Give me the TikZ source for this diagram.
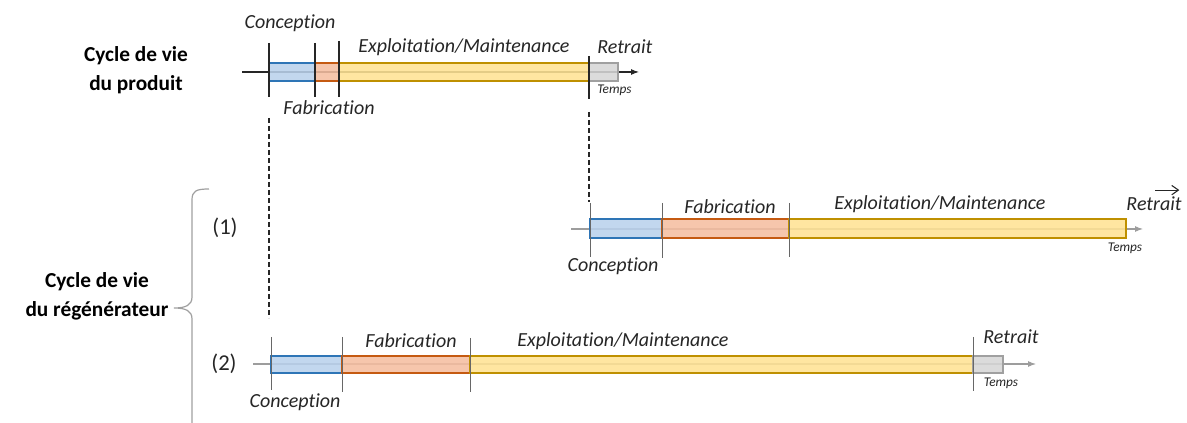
\documentclass[tikz,border=0pt]{standalone}
\usepackage{fontspec}
\setmainfont{Carlito}[Ligatures=NoCommon]
\usepackage{xcolor}
\usepackage{tikz}
\usetikzlibrary{arrows.meta,positioning}
\definecolor{CycBlueFill}{HTML}{B9D1EC}
\definecolor{CycBlue}{HTML}{2E75B6}
\definecolor{CycOrangeFill}{HTML}{F5BEA0}
\definecolor{CycOrange}{HTML}{C55A11}
\definecolor{CycYellowFill}{HTML}{FFE394}
\definecolor{CycYellow}{HTML}{BF9000}
\definecolor{CycGreyFill}{HTML}{D6D6D6}
\definecolor{CycGrey}{HTML}{A0A0A0}
\definecolor{CycDark}{HTML}{262626}

\begin{document}
\begin{tikzpicture}[x=0.75pt,y=-0.75pt,
  phase/.style={line width=1pt,fill opacity=0.88},
  conc/.style={phase,fill=CycBlueFill,draw=CycBlue},
  fab/.style={phase,fill=CycOrangeFill,draw=CycOrange},
  expl/.style={phase,fill=CycYellowFill,draw=CycYellow},
  retr/.style={phase,fill=CycGreyFill,draw=CycGrey},
  jalon/.style={draw=CycDark!70,line width=0.5pt},
  jalonfort/.style={draw=CycDark,line width=1pt},
  axe/.style={draw=CycDark!45,line width=0.8pt,-{Latex[length=6pt,width=4.5pt]}},
  lbl/.style={font=\itshape\fontsize{15}{18}\selectfont,text=CycDark,inner sep=0pt},
  tps/.style={font=\itshape\fontsize{10}{12}\selectfont,text=CycDark,inner sep=0pt},
  cas/.style={font=\fontsize{17}{20}\selectfont,text=CycDark,inner sep=0pt},
  hdr/.style={font=\bfseries\fontsize{16}{22}\selectfont,align=center,text=black,inner sep=0pt},
  renvoi/.style={draw=CycDark,line width=1pt,dash pattern=on 3.5pt off 2.5pt}]
  \useasboundingbox (0,0) rectangle (1187,423);

  % en-tetes a gauche
  \node[hdr] (produit) at (136,70) {Cycle de vie\\du produit};
  \node[hdr] (regen) at (97,296) {Cycle de vie\\du régénérateur};
  \node[cas] (cas1) at (225,228) {(1)};
  \node[cas] (cas2) at (224,364) {(2)};
  \draw[draw=CycGrey,line width=0.9pt] (209,189) .. controls (196,189) and (192,191) .. (192,200)
    -- (192,297) .. controls (192,305) and (186,308) .. (174,308)
    .. controls (186,308) and (192,311) .. (192,319) -- (192,426);

  % cycle du produit
  \coordinate (p0) at (242,72);
  \coordinate (p1) at (639,72);
  \draw[axe,draw=CycDark] (p0) -- (p1);
  \draw[conc] (269,63) rectangle (315,81);
  \draw[fab] (315,63) rectangle (339,81);
  \draw[expl] (339,63) rectangle (589,81);
  \draw[retr] (589,63) rectangle (618,81);
  \draw[jalonfort] (269,43) -- (269,97);
  \draw[jalonfort] (315,43) -- (315,97);
  \draw[jalonfort] (339,41) -- (339,97);
  \draw[jalonfort] (589,56) -- (589,99);
  \node[lbl] (pconc) at (290,23) {Conception};
  \node[lbl] (pfab) at (329,108) {Fabrication};
  \node[lbl] (pexpl) at (464,47) {Exploitation/Maintenance};
  \node[lbl,anchor=west] (pretr) at (597,47) {Retrait};
  \node[tps,anchor=west] (ptps) at (597,90) {Temps};

  % renvois
  \coordinate (d1a) at (269,118);
  \coordinate (d1b) at (269,318);
  \coordinate (d2a) at (589,112);
  \coordinate (d2b) at (589,202);
  \draw[renvoi] (d1a) -- (d1b);
  \draw[renvoi] (d2a) -- (d2b);

  % regenerateur (1)
  \coordinate (a0) at (571,229);
  \coordinate (a1) at (1143,229);
  \draw[axe] (a0) -- (a1);
  \draw[conc] (590,219) rectangle (662,238);
  \draw[fab] (662,219) rectangle (789,238);
  \draw[expl] (789,219) rectangle (1126,238);
  \draw[jalon] (590,203) -- (590,257);
  \draw[jalon] (662,203) -- (662,258);
  \draw[jalon] (789,203) -- (789,257);
  \node[lbl] (aconc) at (613,266) {Conception};
  \node[lbl] (afab) at (730,207) {Fabrication};
  \node[lbl] (aexpl) at (940,204) {Exploitation/Maintenance};
  \node[lbl] (aretr) at (1154,204) {Retrait};
  \node[tps] (atps) at (1125,248) {Temps};
  \draw[draw=CycDark,line width=0.8pt,-{Straight Barb[length=5pt,width=7pt]}]
    ([xshift=1pt,yshift=5pt]aretr.north) -- ([xshift=19pt,yshift=5pt]aretr.north);

  % regenerateur (2)
  \coordinate (b0) at (253,364);
  \coordinate (b1) at (1036,364);
  \draw[axe] (b0) -- (b1);
  \draw[conc] (271,356) rectangle (342,373);
  \draw[fab] (342,356) rectangle (470,373);
  \draw[expl] (470,356) rectangle (973,373);
  \draw[retr] (973,356) rectangle (1003,373);
  \draw[jalon] (271,337) -- (271,390);
  \draw[jalon] (342,337) -- (342,392);
  \draw[jalon] (470,338) -- (470,392);
  \draw[jalon] (973,337) -- (973,391);
  \node[lbl] (bconc) at (295,402) {Conception};
  \node[lbl] (bfab) at (411,341) {Fabrication};
  \node[lbl] (bexpl) at (623,341) {Exploitation/Maintenance};
  \node[lbl] (bretr) at (1011,337) {Retrait};
  \node[tps] (btps) at (1001,383) {Temps};
\end{tikzpicture}
\end{document}
